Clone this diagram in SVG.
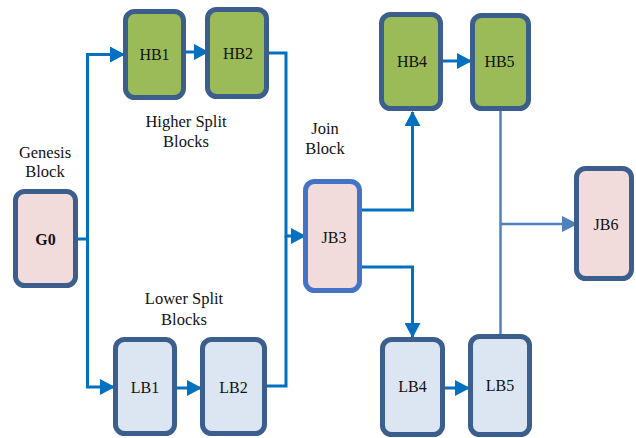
<svg xmlns="http://www.w3.org/2000/svg" width="636" height="438" viewBox="0 0 636 438">
  <style>
    .blk { stroke: #3b5e8c; stroke-width: 5; }
    .hi { fill: #9bbb59; }
    .lo { fill: #dce6f2; }
    .gen { fill: #f2dcdb; }
    .join { stroke: #4472c4; }
    .lbl { font-family: 'Liberation Serif', 'Times New Roman', serif; font-size: 16px; fill: #111; text-anchor: middle; }
    .cap { font-family: 'Liberation Serif', 'Times New Roman', serif; font-size: 16.5px; fill: #111; text-anchor: middle; }
    .wire { fill: none; stroke: #0070c0; stroke-width: 3; }
    .thin { fill: none; stroke: #4f81bd; stroke-width: 2.5; }
  </style>
  <defs>
    <marker id="arr" markerUnits="userSpaceOnUse" markerWidth="15" markerHeight="16" refX="14" refY="8" orient="auto">
      <path d="M0,0 L15,8 L0,16 z" fill="#0070c0"/>
    </marker>
    <marker id="arrThin" markerUnits="userSpaceOnUse" markerWidth="16" markerHeight="16" refX="15" refY="8" orient="auto">
      <path d="M0,0 L16,8 L0,16 z" fill="#4f81bd"/>
    </marker>
  </defs>
  <rect width="636" height="438" fill="#ffffff"/>

  <!-- captions -->
  <g id="captions">
    <text class="cap" x="45" y="158">Genesis</text>
    <text class="cap" x="45" y="177">Block</text>
    <text class="cap" x="186" y="127">Higher Split</text>
    <text class="cap" x="186" y="147">Blocks</text>
    <text class="cap" x="184" y="304">Lower Split</text>
    <text class="cap" x="184" y="325">Blocks</text>
    <text class="cap" x="325" y="134">Join</text>
    <text class="cap" x="325" y="154">Block</text>
  </g>

  <!-- connectors -->
  <g id="connectors">
    <path class="wire" d="M78 239 H87.5 V54.5 H124" marker-end="url(#arr)"/>
    <path class="wire" d="M87.5 239 V387 H114" marker-end="url(#arr)"/>
    <path class="wire" d="M186 52 H208" marker-end="url(#arr)"/>
    <path class="wire" d="M269 53 H286 V236 H305" marker-end="url(#arr)"/>
    <path class="wire" d="M177 388 H201" marker-end="url(#arr)"/>
    <path class="wire" d="M267 386 H286 V236"/>
    <path class="wire" d="M362 210 H412.5 V112" marker-end="url(#arr)"/>
    <path class="wire" d="M362 267 H412.5 V337" marker-end="url(#arr)"/>
    <path class="wire" d="M443 61 H471" marker-end="url(#arr)"/>
    <path class="wire" d="M445 388 H469" marker-end="url(#arr)"/>
    <path class="thin" d="M500.5 111 V335"/>
    <path class="thin" d="M500.5 224 H577" marker-end="url(#arrThin)"/>
  </g>

  <!-- blocks -->
  <g id="HB1"><rect class="blk hi" x="125.5" y="11.5" width="58" height="86" rx="9"/><text class="lbl" x="154.5" y="60">HB1</text></g>
  <g id="HB2"><rect class="blk hi" x="207.5" y="9.5" width="59" height="87" rx="9"/><text class="lbl" x="238" y="59">HB2</text></g>
  <g id="HB4"><rect class="blk hi" x="381.5" y="14.5" width="59" height="94" rx="9"/><text class="lbl" x="412" y="67">HB4</text></g>
  <g id="HB5"><rect class="blk hi" x="472.5" y="15.5" width="56" height="93" rx="9"/><text class="lbl" x="499.5" y="67">HB5</text></g>
  <g id="G0"><rect class="blk gen" x="15.5" y="191.5" width="60" height="94" rx="9"/><text class="lbl" x="45.5" y="245" font-weight="bold">G0</text></g>
  <g id="JB3"><rect class="blk gen join" x="305.5" y="181.5" width="54" height="109" rx="9"/><text class="lbl" x="334" y="243">JB3</text></g>
  <g id="JB6"><rect class="blk gen" x="576.5" y="168.5" width="55" height="110" rx="9"/><text class="lbl" x="606" y="230">JB6</text></g>
  <g id="LB1"><rect class="blk lo" x="115.5" y="339.5" width="59" height="94" rx="9"/><text class="lbl" x="145" y="393">LB1</text></g>
  <g id="LB2"><rect class="blk lo" x="202.5" y="339.5" width="62" height="94" rx="9"/><text class="lbl" x="233.5" y="393">LB2</text></g>
  <g id="LB4"><rect class="blk lo" x="382.5" y="339.5" width="60" height="95" rx="9"/><text class="lbl" x="412.5" y="392">LB4</text></g>
  <g id="LB5"><rect class="blk lo" x="470.5" y="336.5" width="59" height="98" rx="9"/><text class="lbl" x="500" y="391">LB5</text></g>
</svg>
